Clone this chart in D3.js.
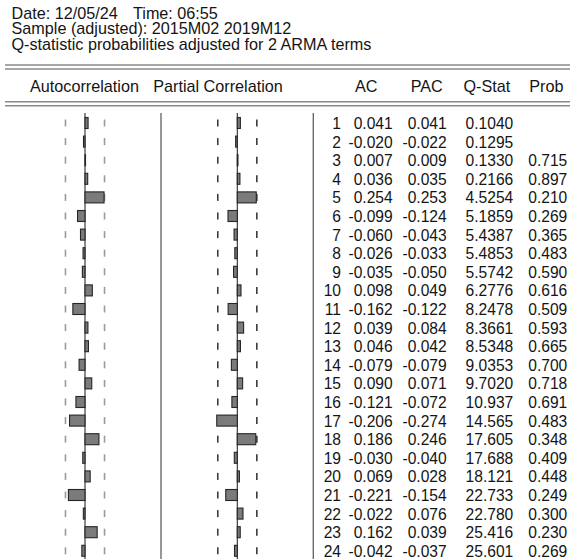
<!DOCTYPE html>
<html>
<head>
<meta charset="utf-8">
<script src="https://cdn.jsdelivr.net/npm/d3@7"></script>
<style>
  body { margin: 0; background: #fff; }
  text { font-family: "Liberation Sans", Arial, sans-serif; fill: #151515; }
</style>
</head>
<body>
<div id="chart"></div>
<script>
const width = 570;
const height = 559;

// header lines
const titleLines = ["Sample (adjusted): 2015M02 2019M12", "Q-statistic probabilities adjusted for 2 ARMA terms"];

// correlogram values
const lags = d3.range(1, 25);
const ac = [0.041, -0.020, 0.007, 0.036, 0.254, -0.099, -0.060, -0.026, -0.035, 0.098, -0.162, 0.039,
            0.046, -0.079, 0.090, -0.121, -0.206, 0.186, -0.030, 0.069, -0.221, -0.022, 0.162, -0.042];
const pac = [0.041, -0.022, 0.009, 0.035, 0.253, -0.124, -0.043, -0.033, -0.050, 0.049, -0.122, 0.084,
             0.042, -0.079, 0.071, -0.072, -0.274, 0.246, -0.040, 0.028, -0.154, 0.076, 0.039, -0.037];
const qstat = [0.1040, 0.1295, 0.1330, 0.2166, 4.5254, 5.1859, 5.4387, 5.4853, 5.5742, 6.2776, 8.2478, 8.3661,
               8.5348, 9.0353, 9.7020, 10.937, 14.565, 17.605, 17.688, 18.121, 22.733, 22.780, 25.416, 25.601];
const prob = [null, null, 0.715, 0.897, 0.210, 0.269, 0.365, 0.483, 0.590, 0.616, 0.509, 0.593,
              0.665, 0.700, 0.718, 0.691, 0.483, 0.348, 0.409, 0.448, 0.249, 0.300, 0.230, 0.269];
const nobs = 59;
const bound = 2 / Math.sqrt(nobs);

document.addEventListener('DOMContentLoaded', function () {
    const svg = d3.select('#chart')
        .append('svg')
        .attr('width', width)
        .attr('height', height);

    // title block
    svg.append("text").attr("x", 11.5).attr("y", 18.5).style("font-size", "16.2px").text("Date: 12/05/24");
    svg.append("text").attr("x", 133).attr("y", 18.5).style("font-size", "16.2px").text("Time: 06:55");
    svg.selectAll(".title")
        .data(titleLines)
        .enter()
        .append("text")
        .attr("x", 11.5)
        .attr("y", (d, i) => 34.3 + i * 15.8)
        .style("font-size", "16.2px")
        .text(d => d);

    // double rules around the column header
    [65, 69, 101.8, 105.8].forEach(y => {
        svg.append("line")
            .attr("x1", 5).attr("x2", width)
            .attr("y1", y).attr("y2", y)
            .attr("stroke", "#8a8a8a")
            .attr("stroke-width", 1.5);
    });

    const headers = [
        {text: "Autocorrelation", x: 84.5, anchor: "middle"},
        {text: "Partial Correlation", x: 218, anchor: "middle"},
        {text: "AC", x: 377.5, anchor: "end"},
        {text: "PAC", x: 442.8, anchor: "end"},
        {text: "Q-Stat", x: 510.3, anchor: "end"},
        {text: "Prob", x: 563.5, anchor: "end"}
    ];
    svg.selectAll(".hdr")
        .data(headers)
        .enter()
        .append("text")
        .attr("x", d => d.x)
        .attr("y", 91.8)
        .attr("text-anchor", d => d.anchor)
        .style("font-size", "16.2px")
        .text(d => d.text);

    // row positions (bar centers)
    const yScale = d3.scaleLinear().domain([1, 24]).range([123, 550.8]);
    const rowH = 11;

    // separators
    [161, 313.3].forEach(x => {
        svg.append("line")
            .attr("x1", x).attr("x2", x)
            .attr("y1", 113).attr("y2", height)
            .attr("stroke", "#6a6a6a")
            .attr("stroke-width", 1.4);
    });

    function drawPanel(values, center, dashColor) {
        const xScale = d3.scaleLinear().domain([-1, 1]).range([center - 75, center + 75]);
        const g = svg.append("g");

        // confidence band dashes
        [-bound, bound].forEach(b => {
            g.selectAll(null)
                .data(lags)
                .enter()
                .append("line")
                .attr("x1", xScale(b)).attr("x2", xScale(b))
                .attr("y1", d => yScale(d) - 3.5)
                .attr("y2", d => yScale(d) + 3.5)
                .attr("stroke", dashColor)
                .attr("stroke-width", 1.6);
        });

        // zero axis
        g.append("line")
            .attr("x1", xScale(0)).attr("x2", xScale(0))
            .attr("y1", 113).attr("y2", height)
            .attr("stroke", "#2a2a2a")
            .attr("stroke-width", 1.1);

        g.selectAll("rect")
            .data(values)
            .enter()
            .append("rect")
            .attr("x", d => xScale(Math.min(0, d)))
            .attr("y", (d, i) => yScale(lags[i]) - rowH / 2)
            .attr("width", d => Math.abs(xScale(d) - xScale(0)))
            .attr("height", rowH)
            .attr("fill", "#7b7b7b")
            .attr("stroke", "#262626")
            .attr("stroke-width", 1.1);
    }

    drawPanel(ac, 85, "#9a9a9a");
    drawPanel(pac, 237.3, "#3a3a3a");

    // numeric columns (plain hyphen for the minus sign, as in the output table)
    const fix = fmt => v => fmt(v).replace("\u2212", "-");
    const f3 = fix(d3.format(".3f"));
    const f4 = fix(d3.format(".4f"));
    const columns = [
        {x: 341, vals: lags.map(d => String(d))},
        {x: 392.7, vals: ac.map(f3)},
        {x: 446.7, vals: pac.map(f3)},
        {x: 513.3, vals: qstat.map(q => q < 10 ? f4(q) : f3(q))},
        {x: 567.3, vals: prob.map(p => p == null ? "" : f3(p))}
    ];
    columns.forEach(col => {
        svg.selectAll(null)
            .data(col.vals)
            .enter()
            .append("text")
            .attr("x", col.x)
            .attr("y", (d, i) => yScale(lags[i]) + 6)
            .attr("text-anchor", "end")
            .style("font-size", "15.6px")
            .text(d => d);
    });
});
</script>
</body>
</html>
